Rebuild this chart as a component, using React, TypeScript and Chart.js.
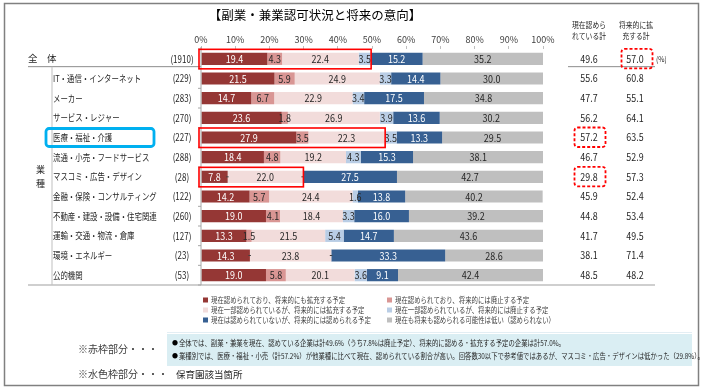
import React, { useEffect, useRef } from 'react';
import { Chart, registerables } from 'chart.js';
Chart.register(...registerables);

const categories = ['全　体', 'IT・通信・インターネット', 'メーカー', 'サービス・レジャー', '医療・福祉・介護', '流通・小売・フードサービス', 'マスコミ・広告・デザイン', '金融・保険・コンサルティング', '不動産・建設・設備・住宅関連', '運輸・交通・物流・倉庫', '環境・エネルギー', '公的機関'];
const counts = ['(1910)', '(229)', '(283)', '(270)', '(227)', '(288)', '(28)', '(122)', '(260)', '(127)', '(23)', '(53)'];
const seriesNames = [
  '現在認められており、将来的にも拡充する予定',
  '現在認められており、将来的には廃止する予定',
  '現在一部認められているが、将来的には拡充する予定',
  '現在一部認められているが、将来的には廃止する予定',
  '現在は認められていないが、将来的には認められる予定',
  '現在も将来も認められる可能性は低い（認められない）',
];
const nowExpand = [19.4, 21.5, 14.7, 23.6, 27.9, 18.4, 7.8, 14.2, 19.0, 13.3, 14.3, 19.0];
const nowAbolish = [4.3, 5.9, 6.7, 1.8, 3.5, 4.8, 0, 5.7, 4.1, 1.5, 0, 5.8];
const partExpand = [22.4, 24.9, 22.9, 26.9, 22.3, 19.2, 22.0, 24.4, 18.4, 21.5, 23.8, 20.1];
const partAbolish = [3.5, 3.3, 3.4, 3.9, 3.5, 4.3, 0, 1.6, 3.3, 5.4, 0, 3.6];
const futureAllow = [15.2, 14.4, 17.5, 13.6, 13.3, 15.3, 27.5, 13.8, 16.0, 14.7, 33.3, 9.1];
const neverAllow = [35.2, 30.0, 34.8, 30.2, 29.5, 38.1, 42.7, 40.2, 39.2, 43.6, 28.6, 42.4];
const currentTotal = [49.6, 55.6, 47.7, 56.2, 57.2, 46.7, 29.8, 45.9, 44.8, 41.7, 38.1, 48.5];
const futureTotal = [57.0, 60.8, 55.1, 64.1, 63.5, 52.9, 57.3, 52.4, 53.4, 49.5, 71.4, 48.2];
const xTickValues = [0, 10, 20, 30, 40, 50, 60, 70, 80, 90, 100];

const seriesData = [nowExpand, nowAbolish, partExpand, partAbolish, futureAllow, neverAllow];
const colors = ['#953735', '#D99694', '#F2DCDB', '#B9CDE5', '#376092', '#BFBFBF'];
const labelColors = ['#ffffff', '#262626', '#262626', '#262626', '#ffffff', '#262626'];

const FONT = '"Noto Sans CJK JP", "Noto Sans", sans-serif';

function txt(ctx: CanvasRenderingContext2D, s: string, x: number, y: number, size: number, o: any = {}) {
  ctx.save();
  ctx.font = `${o.weight || 'normal'} ${size}px ${FONT}`;
  ctx.fillStyle = o.color || '#262626';
  ctx.textAlign = o.align || 'left';
  ctx.textBaseline = 'middle';
  ctx.translate(x, y);
  ctx.scale(o.sx ?? 1, 1);
  ctx.fillText(s, 0, 0);
  ctx.restore();
}

function line(ctx: CanvasRenderingContext2D, x1: number, y1: number, x2: number, y2: number, color: string, w = 1) {
  ctx.save();
  ctx.strokeStyle = color;
  ctx.lineWidth = w;
  ctx.beginPath();
  ctx.moveTo(x1, y1);
  ctx.lineTo(x2, y2);
  ctx.stroke();
  ctx.restore();
}

const bgPlugin = {
  id: 'bg',
  beforeDraw(chart: any) {
    const ctx = chart.ctx;
    ctx.save();
    ctx.fillStyle = '#ffffff';
    ctx.fillRect(0, 0, chart.width, chart.height);
    ctx.restore();
  },
};

const valuePlugin = {
  id: 'values',
  afterDatasetsDraw(chart: any) {
    const ctx = chart.ctx;
    seriesData.forEach((arr, d) => {
      const meta = chart.getDatasetMeta(d);
      meta.data.forEach((el: any, i: number) => {
        const v = arr[i];
        if (v === 0) {
          line(ctx, el.x - 1.5, el.y, el.x + 1, el.y, '#404040', 1);
          return;
        }
        const cx = (el.x + el.base) / 2;
        txt(ctx, v.toFixed(1), cx, el.y + 0.5, 10, { align: 'center', color: labelColors[d], sx: 0.9 });
      });
    });
  },
};

const annoPlugin = {
  id: 'anno',
  afterDraw(chart: any) {
    const ctx = chart.ctx;
    const xs = chart.scales.x;
    const ys = chart.scales.y;
    const area = chart.chartArea;
    const yc = (i: number) => ys.getPixelForValue(i);
    const band = yc(1) - yc(0);

    // outer frame
    ctx.save();
    ctx.strokeStyle = '#808080';
    ctx.lineWidth = 1.5;
    ctx.strokeRect(4.5, 3.5, 694, 382);
    ctx.restore();

    // title
    txt(ctx, '【副業・兼業認可状況と将来の意向】', 315, 15, 12.5, { align: 'center', color: '#000' });

    // right headers
    txt(ctx, '現在認めら', 589, 25, 8.5, { align: 'center', sx: 0.8 });
    txt(ctx, 'れている計', 589, 36, 8.5, { align: 'center', sx: 0.8 });
    txt(ctx, '将来的に拡', 636, 25, 8.5, { align: 'center', sx: 0.8 });
    txt(ctx, '充する計', 636, 36, 8.5, { align: 'center', sx: 0.8 });

    // table lines
    const sep = yc(0) + band / 2 - 2;
    line(ctx, 28, sep, area.left, sep, '#8c8c8c', 1);
    line(ctx, 568, sep, 655, sep, '#8c8c8c', 1);
    line(ctx, 28, area.bottom, 655, area.bottom, '#bfbfbf', 1.5);
    line(ctx, 52, sep, 52, area.bottom, '#bfbfbf', 1);
    line(ctx, area.left, area.top - 2, area.left, area.bottom, '#a6a6a6', 1);
    for (let i = 0; i <= categories.length; i++) {
      const y = yc(0) - band / 2 + i * band;
      line(ctx, area.left - 3, y, area.left, y, '#a6a6a6', 1);
    }

    // 業種
    txt(ctx, '業', 36, 170, 9);
    txt(ctx, '種', 36, 184, 9);

    categories.forEach((c, i) => {
      const y = yc(i);
      if (i === 0) txt(ctx, c, 28, y, 9.5);
      else txt(ctx, c, 53, y, 9.5, { sx: 0.78 });
      txt(ctx, counts[i], 182, y, 10, { align: 'center', sx: 0.8 });
      txt(ctx, currentTotal[i].toFixed(1), 589, y, 10.5, { align: 'center', sx: 0.85 });
      txt(ctx, futureTotal[i].toFixed(1), 635, y, 10.5, { align: 'center', sx: 0.85 });
    });
    ctx.save();
    ctx.beginPath();
    ctx.rect(650, 40, 16, 40);
    ctx.clip();
    txt(ctx, '(%)', 656, yc(0), 8, { sx: 0.85 });
    ctx.restore();

    // red solid boxes
    const sum = (i: number, k: number) => seriesData.slice(0, k).reduce((a, s) => a + s[i], 0);
    const redBoxes: [number, number][] = [[0, 4], [4, 3], [6, 3]];
    ctx.save();
    ctx.strokeStyle = '#ff0000';
    ctx.lineWidth = 1.6;
    redBoxes.forEach(([i, k]) => {
      const x0 = xs.getPixelForValue(0) - 2;
      const x1 = xs.getPixelForValue(sum(i, k)) + 0.5;
      ctx.strokeRect(x0, yc(i) - 9.5, x1 - x0, 19.5);
    });
    ctx.restore();

    // red dashed boxes
    ctx.save();
    ctx.strokeStyle = '#ff0000';
    ctx.lineWidth = 1.8;
    ctx.setLineDash([3, 2]);
    const dashed: [number, number][] = [[637, 0], [590, 4], [590, 6]];
    dashed.forEach(([cx, i]) => {
      ctx.beginPath();
      ctx.roundRect(cx - 15.5, yc(i) - 10, 31, 19.5, 3);
      ctx.stroke();
    });
    ctx.restore();

    // blue box
    ctx.save();
    ctx.strokeStyle = '#00B0F0';
    ctx.lineWidth = 2.8;
    ctx.beginPath();
    ctx.roundRect(46, yc(4) - 9, 108, 18, 3);
    ctx.stroke();
    ctx.restore();

    // legend
    const legendPos: [number, number, number][] = [
      [205, 300, 0], [389, 300, 1],
      [205, 310, 2], [389, 310, 3],
      [205, 320, 4], [389, 320, 5],
    ];
    legendPos.forEach(([x, y, d]) => {
      ctx.save();
      ctx.fillStyle = colors[d];
      ctx.fillRect(x - 2, y - 2.5, 5, 5);
      ctx.restore();
      txt(ctx, seriesNames[d], x + 6, y, 8, { sx: 0.8, color: '#404040' });
    });

    // notes
    ctx.save();
    ctx.fillStyle = '#DAEEF3';
    ctx.fillRect(167, 334, 525, 32);
    ctx.restore();
    line(ctx, 167, 332.5, 692, 332.5, '#e3eef4', 1);
    txt(ctx, '※赤枠部分・・・', 78, 349, 10, { color: '#404040' });
    txt(ctx, '●', 172, 343, 6, { color: '#000' });
    txt(ctx, '●', 172, 356, 6, { color: '#000' });
    txt(ctx, '全体では、副業・兼業を現在、認めている企業は計49.6%（うち7.8%は廃止予定）、将来的に認める・拡充する予定の企業は計57.0%。', 179, 343, 7.5, { sx: 0.85, color: '#262626' });
    txt(ctx, '業種別では、医療・福祉・小売（計57.2%）が他業種に比べて現在、認められている割合が高い。回答数30以下で参考値ではあるが、マスコミ・広告・デザインは低かった（29.8%）。', 179, 356, 7.5, { sx: 0.85, color: '#262626' });
    txt(ctx, '※水色枠部分・・・', 78, 374, 10, { color: '#404040' });
    txt(ctx, '保育園該当箇所', 176, 374, 9.5, { color: '#262626' });
  },
};

export default function App() {
  const ref = useRef<HTMLCanvasElement>(null);
  useEffect(() => {
    if (!ref.current) return;
    const chart = new Chart(ref.current, {
      type: 'bar',
      data: {
        labels: categories,
        datasets: seriesData.map((d, i) => ({
          label: seriesNames[i],
          data: d,
          backgroundColor: colors[i],
          borderWidth: 0,
          barPercentage: 0.62,
          categoryPercentage: 1,
        })),
      },
      options: {
        indexAxis: 'y',
        responsive: false,
        animation: false,
        layout: { padding: { left: 201, right: 162, top: 27, bottom: 104 } },
        plugins: { legend: { display: false }, tooltip: { enabled: false } },
        scales: {
          x: {
            type: 'linear',
            position: 'top',
            stacked: true,
            min: 0,
            max: 100,
            afterFit: (s: any) => { s.height = 22; },
            afterBuildTicks: (s: any) => { s.ticks = xTickValues.map((v) => ({ value: v })); },
            ticks: {
              callback: (v: any) => v + '%',
              font: { size: 9, family: FONT },
              color: '#404040',
              padding: 1,
              maxRotation: 0,
              autoSkip: false,
            },
            grid: { display: true, drawOnChartArea: false, drawTicks: true, tickLength: 3, color: '#bfbfbf' },
            border: { display: false },
          },
          y: {
            type: 'category',
            stacked: true,
            display: false,
          },
        },
      },
      plugins: [bgPlugin, valuePlugin, annoPlugin],
    } as any);
    return () => chart.destroy();
  }, []);
  return (
    <div style={{ position: 'fixed', left: 0, top: 0, width: 705, height: 389, background: '#fff' }}>
      <canvas ref={ref} width={705} height={389} style={{ display: 'block', width: 705, height: 389 }} />
    </div>
  );
}
